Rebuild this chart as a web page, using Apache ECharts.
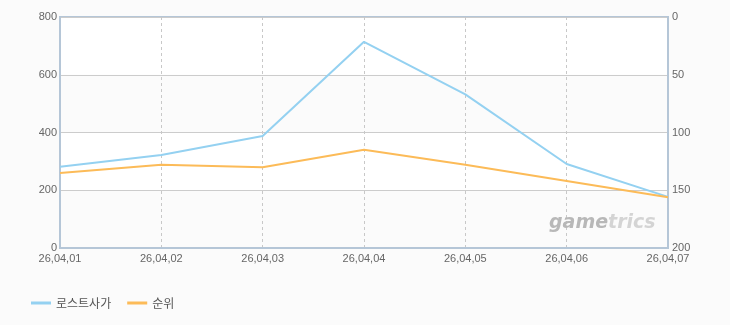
<!DOCTYPE html>
<html><head><meta charset="utf-8">
<script src="https://cdn.jsdelivr.net/npm/echarts@6/dist/echarts.min.js"></script>
<style>html,body{margin:0;padding:0;background:#fbfbfb;}#c{width:730px;height:325px;}</style>
</head><body><div id="c"></div>
<script>
const categories = ['26,04,01','26,04,02','26,04,03','26,04,04','26,04,05','26,04,06','26,04,07'];
const seriesNames = ['로스트사가','순위'];
const users = [281, 322, 388, 714, 532, 291, 177];
const ranks = [135, 128, 130, 115, 128, 142, 156];

const chart = echarts.init(document.getElementById('c'), null, {renderer:'canvas'});
const font = 'Liberation Sans, DejaVu Sans, sans-serif';
chart.setOption({
  backgroundColor:'#fbfbfb',
  animation:false,
  grid:{left:60,right:62,top:17,bottom:77,show:true,borderColor:'#b5c6d7',borderWidth:2,backgroundColor:'transparent'},
  legend:{left:26,top:292,icon:'rect',itemWidth:20,itemHeight:3,itemGap:16,
    textStyle:{color:'#555',fontSize:12,fontFamily:'Noto Sans CJK KR, sans-serif'},
    data:seriesNames},
  xAxis:{type:'category',data:categories,boundaryGap:false,
    axisLine:{lineStyle:{color:'#b5c6d7',width:2}},
    axisTick:{show:false},
    axisLabel:{color:'#666',fontSize:11,fontFamily:font,margin:5,showMinLabel:true,showMaxLabel:true,interval:0},
    splitLine:{show:true,lineStyle:{color:'#c8c8c8',type:[3,3],width:1}}},
  yAxis:[
    {type:'value',min:0,max:800,interval:200,position:'left',
     axisLine:{show:true,lineStyle:{color:'#b5c6d7',width:2}},axisTick:{show:false},
     axisLabel:{color:'#666',fontSize:11,fontFamily:font,margin:3},
     splitLine:{show:true,lineStyle:{color:'#cccccc',width:1}},
     splitArea:{show:true,areaStyle:{color:['#fbfbfb','#ffffff']}}},
    {type:'value',min:0,max:200,interval:50,inverse:true,position:'right',
     axisLine:{show:true,lineStyle:{color:'#b5c6d7',width:2}},axisTick:{show:false},
     axisLabel:{color:'#666',fontSize:11,fontFamily:font,margin:4},
     splitLine:{show:false}}
  ],
  series:[
    {name:seriesNames[0],type:'line',data:users,yAxisIndex:0,symbol:'none',z:3,
     lineStyle:{color:'#94d1f1',width:2},itemStyle:{color:'#94d1f1'}},
    {name:seriesNames[1],type:'line',data:ranks,yAxisIndex:1,symbol:'none',z:3,
     lineStyle:{color:'#fcbb58',width:2},itemStyle:{color:'#fcbb58'}}
  ],
  graphic:[{type:'text',left:549,top:214,z:1,silent:true,
    style:{text:'{a|game}{b|trics}',rich:{
      a:{fill:'#b8b8b8',font:'italic bold 19px DejaVu Sans, sans-serif'},
      b:{fill:'#d4d4d4',font:'italic bold 19px DejaVu Sans, sans-serif'}}}}]
});
</script></body></html>
